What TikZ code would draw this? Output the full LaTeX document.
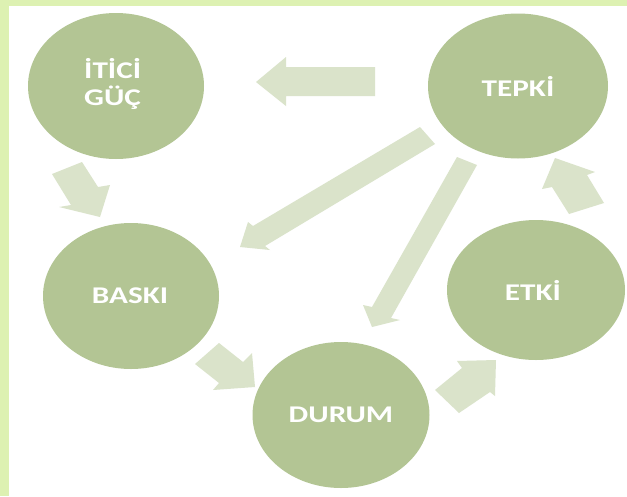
\documentclass[tikz,border=0pt]{standalone}
\usepackage{fontspec}
\setmainfont{Carlito}
\usetikzlibrary{shapes.geometric}
\definecolor{bubfill}{HTML}{B3C594}
\definecolor{arrfill}{HTML}{DAE3CA}
\definecolor{framecol}{HTML}{DDF1B2}
\tikzset{
  bub/.style={ellipse, fill=bubfill, draw=none, inner sep=0pt,
    minimum width=176pt, minimum height=146pt},
  lab/.style={text=white, font=\fontsize{24}{27}\selectfont\bfseries, inner sep=0pt},
  blockarr/.style={fill=arrfill, draw=none}
}
\newcommand{\wide}[1]{\scalebox{1.3}[1]{#1}}
\begin{document}
\begin{tikzpicture}[x=1pt,y=-1pt]
\useasboundingbox (0,0) rectangle (627,496);
\fill[white] (0,0) rectangle (627,496);
% frame
\fill[framecol] (0,0) rectangle (627,6);
\fill[framecol] (0,0) rectangle (8.5,496);
% bubbles
\node[bub] (iti) at (116,86) {};
\node[bub, minimum width=180pt, minimum height=145pt] (tep) at (518,86) {};
\node[bub] (bas) at (131,296) {};
\node[bub, minimum width=177pt] (dur) at (341,415) {};
\node[bub, minimum width=178pt, minimum height=140pt] (etk) at (536,290) {};
% labels
\node[lab, align=left, anchor=west] (itilab) at (84,84) {\wide{İTİCİ}\\[0pt]\wide{GÜÇ}};
\node[lab] (teplab) at (518,86) {\wide{TEPKİ}};
\node[lab] (baslab) at (130,296) {\wide{BASKI}};
\node[lab] (durlab) at (341,415) {\wide{DURUM}};
\node[lab] (etklab) at (533,290) {\wide{ETKİ}};
% block arrows
% TEPKI -> ITICI GUC
\fill[blockarr] (375,67) -- (286,67) -- (286,57) -- (256,82) -- (286,106) -- (286,96) -- (375,96) -- cycle;
% ITICI GUC -> BASKI
\fill[blockarr] (52,174) -- (82,162) -- (98,187) -- (110,185) -- (100,217) -- (59,207) -- (71,205) -- cycle;
% BASKI -> DURUM
\fill[blockarr] (219,343) -- (243,362) -- (252,353) -- (255,387) -- (213,390) -- (219,383) -- (195,364) -- cycle;
% DURUM -> ETKI
\fill[blockarr] (435,390) -- (462,368) -- (457,361) -- (496,360) -- (495,396) -- (490,392) -- (459,413) -- cycle;
% ETKI -> TEPKI
\fill[blockarr] (555,158) -- (595,172) -- (587,175) -- (604,203) -- (569,214) -- (552,187) -- (542,189) -- cycle;
% TEPKI -> BASKI
\fill[blockarr] (420,127) -- (253,226) -- (248,222) -- (240,247) -- (270,250) -- (265,246) -- (435,144) -- cycle;
% TEPKI -> DURUM
\fill[blockarr] (457,157) -- (372,307) -- (363,305) -- (372,327) -- (400,320) -- (391,318) -- (477,165) -- cycle;
\end{tikzpicture}
\end{document}
